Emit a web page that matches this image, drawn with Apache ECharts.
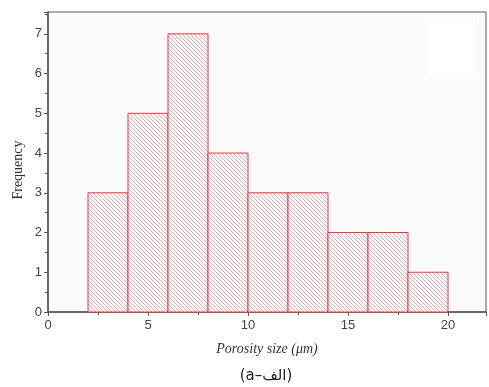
<!DOCTYPE html>
<html>
<head>
<meta charset="utf-8">
<script src="https://cdn.jsdelivr.net/npm/echarts@6/dist/echarts.min.js"></script>
<style>
  html, body { margin: 0; padding: 0; background: #fff; }
  #chart { width: 489px; height: 387px; }
</style>
</head>
<body>
<div id="chart"></div>
<script>
// histogram bins (porosity size, µm) and counts
const binStart = [2, 4, 6, 8, 10, 12, 14, 16, 18]
const binEnd = [4, 6, 8, 10, 12, 14, 16, 18, 20]
const frequency = [3, 5, 7, 4, 3, 3, 2, 2, 1]

const xTicks = [0, 5, 10, 15, 20]
const yTicks = [0, 1, 2, 3, 4, 5, 6, 7]

// diagonal hatch pattern
function makeHatch() {
  const s = 4
  const c = document.createElement('canvas')
  c.width = s
  c.height = s
  const ctx = c.getContext('2d')
  ctx.fillStyle = '#ffffff'
  ctx.fillRect(0, 0, s, s)
  ctx.strokeStyle = 'rgba(240, 110, 120, 0.7)'
  ctx.lineWidth = 0.9
  ctx.beginPath()
  ctx.moveTo(-1, -1); ctx.lineTo(s + 1, s + 1)
  ctx.moveTo(s - 1, -1); ctx.lineTo(s + 1, 1)
  ctx.moveTo(-1, s - 1); ctx.lineTo(1, s + 1)
  ctx.stroke()
  return c
}

const chart = echarts.init(document.getElementById('chart'))
const hatch = makeHatch()
const axisColor = '#555'
const labelFont = { color: '#444', fontSize: 13, fontFamily: 'Liberation Sans' }

const data = binStart.map((s, i) => [s, binEnd[i], frequency[i]])

chart.setOption({
  animation: false,
  backgroundColor: '#fff',
  grid: {
    left: 48,
    right: 2,
    top: 12,
    bottom: 75,
    show: true,
    backgroundColor: '#fbfbfb',
    borderColor: axisColor,
    borderWidth: 1
  },
  xAxis: {
    type: 'value',
    min: 0,
    max: 21.9,
    interval: 5,
    name: 'Porosity size (\u03bcm)',
    nameLocation: 'middle',
    nameGap: 30,
    nameTextStyle: { fontFamily: 'Liberation Serif', fontStyle: 'italic', fontSize: 14, color: '#333' },
    axisLine: { lineStyle: { color: axisColor, width: 1.5 } },
    axisTick: { length: 4, lineStyle: { color: axisColor } },
    minorTick: { show: true, splitNumber: 2, length: 3, lineStyle: { color: axisColor } },
    splitLine: { show: false },
    axisLabel: Object.assign({
      margin: 7,
      formatter: v => (xTicks.includes(v) ? String(v) : '')
    }, labelFont)
  },
  yAxis: {
    type: 'value',
    min: 0,
    max: 7.55,
    interval: 1,
    axisLine: { show: true, lineStyle: { color: axisColor, width: 1.5 } },
    axisTick: { show: true, length: 4, lineStyle: { color: axisColor } },
    minorTick: { show: true, splitNumber: 2, length: 3, lineStyle: { color: axisColor } },
    splitLine: { show: false },
    axisLabel: Object.assign({
      margin: 6,
      formatter: v => (yTicks.includes(v) ? String(v) : '')
    }, labelFont)
  },
  graphic: [
    {
      type: 'rect',
      shape: { x: 428, y: 17, width: 47, height: 58 },
      style: { fill: '#ffffff' },
      z: 1
    },
    {
      type: 'text',
      x: 18,
      y: 170,
      rotation: Math.PI / 2,
      style: {
        text: 'Frequency',
        fontFamily: 'Liberation Serif',
        fontSize: 14,
        fill: '#333',
        align: 'center',
        verticalAlign: 'middle'
      }
    },
    {
      type: 'text',
      x: 266,
      y: 376,
      style: {
        text: '(a\u2013الف)',
        fontFamily: 'DejaVu Sans',
        fontSize: 15,
        fill: '#222',
        align: 'center',
        verticalAlign: 'middle'
      }
    }
  ],
  series: [
    {
      type: 'custom',
      data: data,
      encode: { x: [0, 1], y: 2 },
      renderItem: (params, api) => {
        const p0 = api.coord([api.value(0), api.value(2)])
        const p1 = api.coord([api.value(1), 0])
        return {
          type: 'rect',
          shape: { x: p0[0], y: p0[1], width: p1[0] - p0[0], height: p1[1] - p0[1] },
          style: {
            fill: { image: hatch, repeat: 'repeat' },
            stroke: '#ee3344',
            lineWidth: 1
          }
        }
      }
    }
  ]
})
</script>
</body>
</html>
